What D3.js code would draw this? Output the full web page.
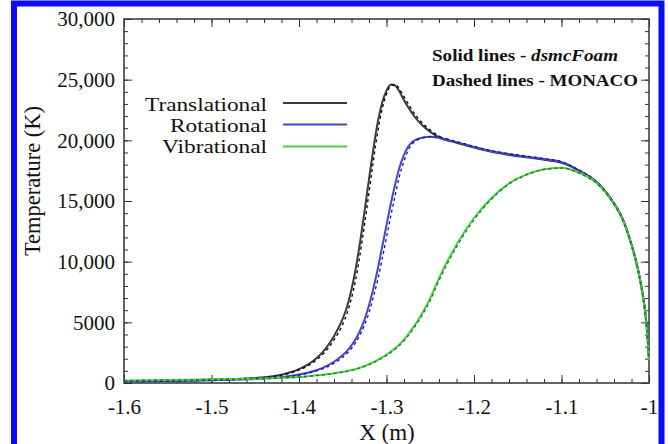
<!DOCTYPE html>
<html><head><meta charset="utf-8">
<script src="https://cdn.jsdelivr.net/npm/d3@7"></script>
<style>body{margin:0;background:#fff;} svg{display:block;font-family:"Liberation Serif","Times New Roman",serif;}</style>
</head><body>
<svg id="c" width="668" height="444"></svg>
<script>
// ---- data ----
const xGrid = [-1.6,-1.55,-1.5,-1.47,-1.45,-1.44,-1.43,-1.42,-1.41,-1.40,-1.39,-1.38,-1.37,-1.36,-1.35,-1.345,-1.34,-1.335,-1.33,-1.325,-1.32,-1.315,-1.31,-1.305,-1.30,-1.295,-1.29,-1.285,-1.28,-1.275,-1.27,-1.26,-1.25,-1.24,-1.22,-1.20,-1.18,-1.16,-1.14,-1.12,-1.10,-1.08,-1.06,-1.05,-1.04,-1.03,-1.02,-1.015,-1.01,-1.005,-1.0025,-1.0];
const transDsmc   = [150,200,270,340,410, 470,560,690,880,1150, 1520,2050,2800,3850,5300, 6300,7700,9500,11700,14200, 16800,19300,21500,23100,24100, 24600,24500,24000,23300,22700, 22150,21300,20700,20250,19800, 19400,19050,18800,18600,18400, 18150,17500,16550,15800,14800, 13500,11400,10100,8450,6250, 4550,1950];
const transMonaco = [150,200,265,330,395, 450,530,650,820,1070, 1410,1900,2580,3550,4850, 5750,7000,8600,10700,13100, 15700,18300,20700,22600,23800, 24500,24600,24200,23600,23000, 22400,21500,20850,20350,19850, 19450,19100,18850,18650,18450, 18200,17550,16600,15850,14850, 13550,11450,10150,8500,6300, 4600,2000];
const rotDsmc     = [100,150,220,280,330, 370,420,490,580,700, 850,1050,1350,1750,2300, 2650,3100,3650,4350,5250, 6400,7800,9400,11200,13000, 14800,16400,17800,18800,19500, 19900,20220,20300,20200,19850, 19450,19100,18850,18650,18450, 18200,17500,16550,15800,14800, 13500,11400,10100,8450,6250, 4550,1950];
const rotMonaco   = [100,150,210,270,320, 355,400,465,550,660, 800,990,1260,1630,2130, 2450,2850,3350,4000,4800, 5800,7100,8500,10200,12000, 13800,15500,17100,18300,19200, 19750,20150,20300,20250,19900, 19500,19150,18900,18700,18500, 18250,17550,16600,15850,14850, 13550,11450,10150,8500,6300, 4600,2000];
const vibDsmc     = [200,250,300,330,360, 380,400,430,460,500, 560,630,710,800,920, 990,1070,1160,1270,1400, 1550,1720,1910,2120,2350, 2600,2880,3200,3580,4020, 4520,5650,7000,8650,11400, 13600,15250,16450,17200,17620, 17750,17350,16500,15750,14750, 13450,11350,10050,8400,6200, 4500,1900];
const vibMonaco   = [190,240,290,320,350, 370,390,415,445,485, 540,605,685,775,890, 960,1040,1130,1240,1360, 1500,1670,1850,2050,2280, 2520,2800,3100,3480,3900, 4400,5500,6800,8450,11200, 13450,15150,16400,17150,17600, 17720,17300,16450,15700,14700, 13400,11300,10000,8350,6150, 4450,1850];

const xTicks = [-1.6,-1.5,-1.4,-1.3,-1.2,-1.1,-1.0];
const xTickLabels = ["-1.6","-1.5","-1.4","-1.3","-1.2","-1.1","-1"];
const yTicks = [0,5000,10000,15000,20000,25000,30000];
const yTickLabels = ["0","5000","10,000","15,000","20,000","25,000","30,000"];
const legendLabels = ["Translational","Rotational","Vibrational"];
const colorsSolid  = ["#3a3a3a","#4545d0","#45d045"];
const colorsDashed = ["#000000","#14148a","#1c7a1c"];

// ---- chart ----
const svg = d3.select("#c");
const L=124, R=649, T=19, B=383;
const x = d3.scaleLinear([-1.6,-1.0],[L,R]);
const y = d3.scaleLinear([0,30000],[B,T]);

svg.append("rect").attr("width",668).attr("height",444).attr("fill","#fff");

const axisCol = "#333";
function styleAxis(g){ g.select(".domain").remove(); g.selectAll("line").attr("stroke",axisCol); }

// minor ticks
const xMinor = d3.range(0,31).map(i=>-1.6+i*0.02);
const yMinor = d3.range(0,31).map(i=>i*1000);
svg.append("g").attr("transform",`translate(0,${B})`).call(d3.axisBottom(x).tickValues(xMinor).tickSize(-4).tickFormat("")).call(styleAxis);
svg.append("g").attr("transform",`translate(0,${T})`).call(d3.axisTop(x).tickValues(xMinor).tickSize(-4).tickFormat("")).call(styleAxis);
svg.append("g").attr("transform",`translate(${L},0)`).call(d3.axisLeft(y).tickValues(yMinor).tickSize(-4).tickFormat("")).call(styleAxis);
svg.append("g").attr("transform",`translate(${R},0)`).call(d3.axisRight(y).tickValues(yMinor).tickSize(-4).tickFormat("")).call(styleAxis);

// major ticks + labels
const gx = svg.append("g").attr("transform",`translate(0,${B})`)
  .call(d3.axisBottom(x).tickValues(xTicks).tickSize(-8).tickPadding(16).tickFormat((d,i)=>xTickLabels[i]))
  .call(styleAxis);
gx.selectAll("text").attr("font-size",21).attr("fill","#111").attr("font-family","Liberation Serif");
svg.append("g").attr("transform",`translate(0,${T})`).call(d3.axisTop(x).tickValues(xTicks).tickSize(-8).tickFormat("")).call(styleAxis);
const gy = svg.append("g").attr("transform",`translate(${L},0)`)
  .call(d3.axisLeft(y).tickValues(yTicks).tickSize(-8).tickPadding(9).tickFormat((d,i)=>yTickLabels[i]))
  .call(styleAxis);
gy.selectAll("text").attr("font-size",21).attr("fill","#111").attr("font-family","Liberation Serif");
svg.append("g").attr("transform",`translate(${R},0)`).call(d3.axisRight(y).tickValues(yTicks).tickSize(-8).tickFormat("")).call(styleAxis);

// frame
svg.append("rect").attr("x",L).attr("y",T).attr("width",R-L).attr("height",B-T)
  .attr("fill","none").attr("stroke",axisCol).attr("stroke-width",1.5);

// curves
const line = d3.line().x(d=>x(d[0])).y(d=>y(d[1])).curve(d3.curveMonotoneX);
const series = [
  [transDsmc, transMonaco],
  [rotDsmc, rotMonaco],
  [vibDsmc, vibMonaco]
];
series.forEach((s,i)=>{
  svg.append("path").datum(xGrid.map((v,j)=>[v,s[0][j]])).attr("d",line)
    .attr("fill","none").attr("stroke",colorsSolid[i]).attr("stroke-width",2);
  svg.append("path").datum(xGrid.map((v,j)=>[v,s[1][j]])).attr("d",line)
    .attr("fill","none").attr("stroke",colorsDashed[i]).attr("stroke-width",1.3).attr("stroke-dasharray","3,3");
});

// legend
const legBase = [110.5,131.5,153];
const legLineY = [103,124.5,146.5];
const legWidth = [122,97,105];
legendLabels.forEach((lab,i)=>{
  svg.append("text").attr("x",267).attr("y",legBase[i]).attr("text-anchor","end")
    .attr("font-size",19).attr("fill","#111")
    .attr("textLength",legWidth[i]).attr("lengthAdjust","spacingAndGlyphs").text(lab);
  svg.append("line").attr("x1",283).attr("x2",347).attr("y1",legLineY[i]).attr("y2",legLineY[i])
    .attr("stroke",colorsSolid[i]).attr("stroke-width",2);
});

// annotation
const a1 = svg.append("text").attr("x",432).attr("y",61).attr("font-size",17.5).attr("font-weight","bold").attr("fill","#111")
  .attr("textLength",186).attr("lengthAdjust","spacingAndGlyphs");
a1.append("tspan").text("Solid lines - ");
a1.append("tspan").attr("font-style","italic").text("dsmcFoam");
svg.append("text").attr("x",432).attr("y",86).attr("font-size",17.5).attr("font-weight","bold").attr("fill","#111")
  .attr("textLength",206).attr("lengthAdjust","spacingAndGlyphs").text("Dashed lines - MONACO");

// axis titles
svg.append("text").attr("x",387).attr("y",440).attr("text-anchor","middle").attr("font-size",23).attr("fill","#111").text("X (m)");
svg.append("text").attr("transform","translate(40,181) rotate(-90)").attr("text-anchor","middle").attr("font-size",22.5).attr("fill","#111").text("Temperature (K)");

// blue border
svg.append("path").attr("d","M14,450 L14,3.5 L661.5,3.5 L661.5,450").attr("fill","none").attr("stroke","#0a0aff").attr("stroke-width",6);
</script>
</body></html>
